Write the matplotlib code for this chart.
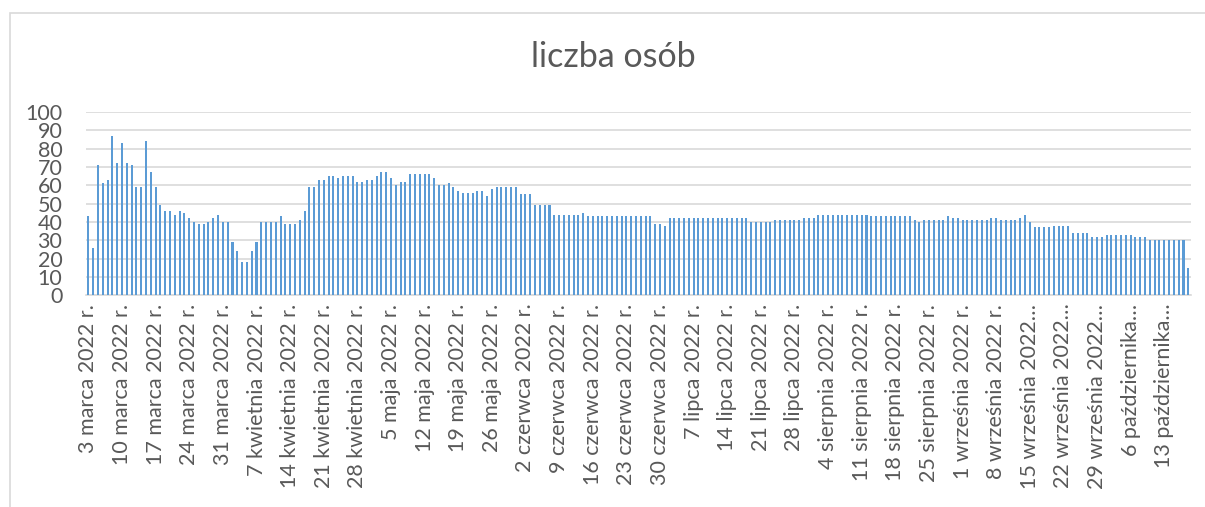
import numpy as np
import matplotlib.pyplot as plt
from matplotlib.patches import Rectangle

# liczba osób, daily values from 3 March 2022 to 18 October 2022
values = [
    43, 26, 71, 61, 63, 87, 72, 83, 72, 71,
    59, 59, 84, 67, 59, 49, 46, 46, 44, 46,
    45, 42, 40, 39, 39, 40, 42, 44, 40, 40,
    29, 24, 18, 18, 24, 29, 40, 40, 40, 40,
    43, 39, 39, 39, 41, 46, 59, 59, 63, 63,
    65, 65, 64, 65, 65, 65, 62, 62, 63, 63,
    65, 67, 67, 64, 60, 62, 62, 66, 66, 66,
    66, 66, 64, 60, 60, 61, 59, 57, 56, 56,
    56, 57, 57, 54, 58, 59, 59, 59, 59, 59,
    55, 55, 55, 49, 49, 49, 49, 44, 44, 44,
    44, 44, 44, 45, 43, 43, 43, 43, 43, 43,
    43, 43, 43, 43, 43, 43, 43, 43, 39, 39,
    38, 42, 42, 42, 42, 42, 42, 42, 42, 42,
    42, 42, 42, 42, 42, 42, 42, 42, 40, 40,
    40, 40, 40, 41, 41, 41, 41, 41, 41, 42,
    42, 42, 44, 44, 44, 44, 44, 44, 44, 44,
    44, 44, 44, 43, 43, 43, 43, 43, 43, 43,
    43, 43, 41, 40, 41, 41, 41, 41, 41, 43,
    42, 42, 41, 41, 41, 41, 41, 41, 42, 42,
    41, 41, 41, 41, 42, 44, 40, 37, 37, 37,
    37, 38, 38, 38, 38, 34, 34, 34, 34, 32,
    32, 32, 33, 33, 33, 33, 33, 33, 32, 32,
    32, 30, 30, 30, 30, 30, 30, 30, 30, 15,
]

tick_labels = [
    "3 marca 2022 r.", "10 marca 2022 r.", "17 marca 2022 r.", "24 marca 2022 r.",
    "31 marca 2022 r.", "7 kwietnia 2022 r.", "14 kwietnia 2022 r.",
    "21 kwietnia 2022 r.", "28 kwietnia 2022 r.", "5 maja 2022 r.",
    "12 maja 2022 r.", "19 maja 2022 r.", "26 maja 2022 r.", "2 czerwca 2022 r.",
    "9 czerwca 2022 r.", "16 czerwca 2022 r.", "23 czerwca 2022 r.",
    "30 czerwca 2022 r.", "7 lipca 2022 r.", "14 lipca 2022 r.", "21 lipca 2022 r.",
    "28 lipca 2022 r.", "4 sierpnia 2022 r.", "11 sierpnia 2022 r.",
    "18 sierpnia 2022 r.", "25 sierpnia 2022 r.", "1 września 2022 r.",
    "8 września 2022 r.", "15 września 2022…", "22 września 2022…",
    "29 września 2022…", "6 października…", "13 października…",
]
tick_step = 7

title = "liczba osób"
bar_color = "#5B9BD5"
text_color = "#595959"
grid_color = "#D9D9D9"

plt.rcParams['font.family'] = ['Lato', 'DejaVu Sans']

fig = plt.figure(figsize=(12.05, 5.07), dpi=100)
ax = fig.add_axes([86 / 1205, 1 - 295.3 / 507, (1190.7 - 86) / 1205, (295.3 - 112) / 507])

x = np.arange(len(values))
ax.bar(x, values, width=0.42, color=bar_color, zorder=3)

ax.set_xlim(-0.5, len(values) - 0.5)
ax.set_ylim(0, 100)
ax.set_yticks(np.arange(0, 101, 10))
ax.grid(axis='y', color=grid_color, linewidth=1.2, zorder=0)

ax.set_xticks(x[::tick_step][:len(tick_labels)])
ax.set_xticklabels(tick_labels, rotation=90, ha='center', va='top')

ax.tick_params(axis='x', length=0, pad=6, labelsize=15.5, labelcolor=text_color)
ax.tick_params(axis='y', length=0, pad=17, labelsize=15.5, labelcolor=text_color)

for s in ['top', 'right', 'left']:
    ax.spines[s].set_visible(False)
ax.spines['bottom'].set_color(grid_color)
ax.spines['bottom'].set_linewidth(1.2)

fig.text(613 / 1205, 1 - 57 / 507, title, ha='center', va='center',
         fontsize=24.5, color=text_color)

# chart area border (cut off at right and bottom)
fig.patches.append(Rectangle((10 / 1205, -0.1), 1.2, 1 - 13 / 507 + 0.1,
                             transform=fig.transFigure, fill=False,
                             edgecolor=grid_color, linewidth=1.2))

fig.savefig("out.png", dpi=100)
